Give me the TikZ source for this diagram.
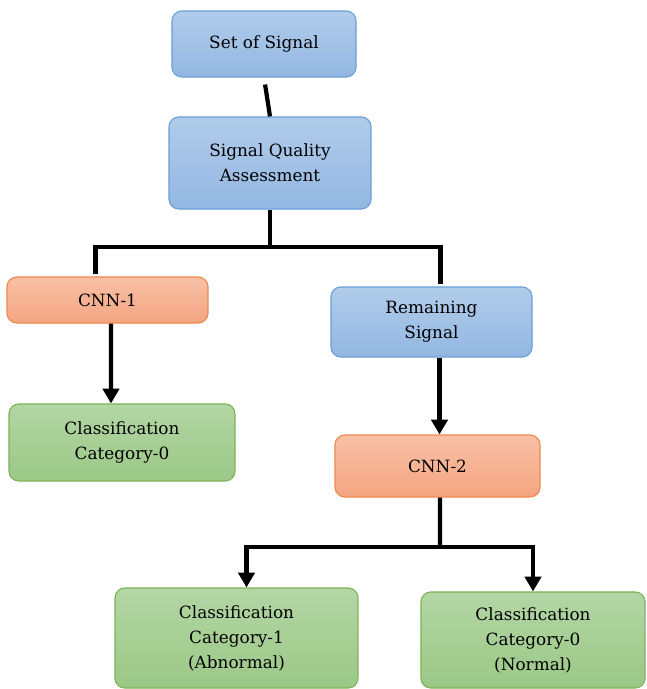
\documentclass[tikz,border=0pt]{standalone}
\usepackage{fontspec}
\setmainfont{DejaVu Serif}
\usepackage{tikz}
\usetikzlibrary{arrows.meta, positioning, calc}

\begin{document}
\begin{tikzpicture}[x=0.025cm, y=-0.025cm,
    box/.style={rectangle, rounded corners=7pt, draw, line width=0.8pt, text centered, align=center,
        font=\fontsize{12}{17.8}\selectfont, inner sep=2pt},
    bluebox/.style={box, draw=boxblueline, top color=boxbluetop, bottom color=boxbluebot},
    orangebox/.style={box, draw=boxorangeline, top color=boxorangetop, bottom color=boxorangebot},
    greenbox/.style={box, draw=boxgreenline, top color=boxgreentop, bottom color=boxgreenbot},
    link/.style={line width=3pt},
    arrow/.style={link, -{Triangle[width=11.5pt,length=10.5pt]}}]

    % Define colors
    \definecolor{boxbluetop}{HTML}{B1CCEA}
    \definecolor{boxbluebot}{HTML}{93B7E2}
    \definecolor{boxblueline}{HTML}{6A9FD8}
    \definecolor{boxorangetop}{HTML}{F8C0A6}
    \definecolor{boxorangebot}{HTML}{F4A581}
    \definecolor{boxorangeline}{HTML}{EE8A4E}
    \definecolor{boxgreentop}{HTML}{B3D6A5}
    \definecolor{boxgreenbot}{HTML}{9BC886}
    \definecolor{boxgreenline}{HTML}{7DB558}

    \useasboundingbox (0,0) rectangle (646,689);

    % Nodes
    \node[bluebox, minimum width=4.6cm, minimum height=1.65cm] (set) at (264,44) {Set of Signal};
    \node[bluebox, minimum width=5.05cm, minimum height=2.3cm] (sqa) at (270,163) {Signal Quality\\Assessment};
    \node[orangebox, minimum width=5.025cm, minimum height=1.15cm] (cnn1) at (107.5,300) {CNN-1};
    \node[bluebox, minimum width=5.025cm, minimum height=1.75cm] (rest) at (431.5,322) {Remaining\\Signal};
    \node[greenbox, minimum width=5.65cm, minimum height=1.925cm] (catA) at (122,442.5) {Classification\\Category-0};
    \node[orangebox, minimum width=5.125cm, minimum height=1.55cm] (cnn2) at (437.5,466) {CNN-2};
    \node[greenbox, minimum width=6.075cm, minimum height=2.5cm] (catB) at (236.5,638) {Classification\\Category-1\\(Abnormal)};
    \node[greenbox, minimum width=5.6cm, minimum height=2.4cm] (catC) at (533,640) {Classification\\Category-0\\(Normal)};

    % Split points
    \coordinate (split1) at (270,247);
    \coordinate (split2) at (440,547);

    % Connectors
    \draw[link, shorten <=5pt] (set.south) -- (sqa.north);
    \draw[link] (sqa.south) -- (split1);
    \draw[link, shorten >=2pt] (split1) -| ($(cnn1.north)+(-12,0)$);
    \draw[link, shorten >=2pt] (split1) -| ($(rest.north)+(9,0)$);
    \draw[arrow] ($(cnn1.south)+(3.5,0)$) -- ($(catA.north)+(-11,0)$ -| {$(cnn1.south)+(3.5,0)$});
    \draw[arrow] ($(rest.south)+(8,0)$) -- (cnn2.north -| {$(rest.south)+(8,0)$});

    % CNN-2 to both categories
    \draw[link] ($(cnn2.south)+(2.5,0)$) -- (split2);
    \draw[arrow] (split2) -| ($(catB.north)+(10,0)$);
    \draw[arrow] (split2) -| (catC.north);

\end{tikzpicture}
\end{document}
